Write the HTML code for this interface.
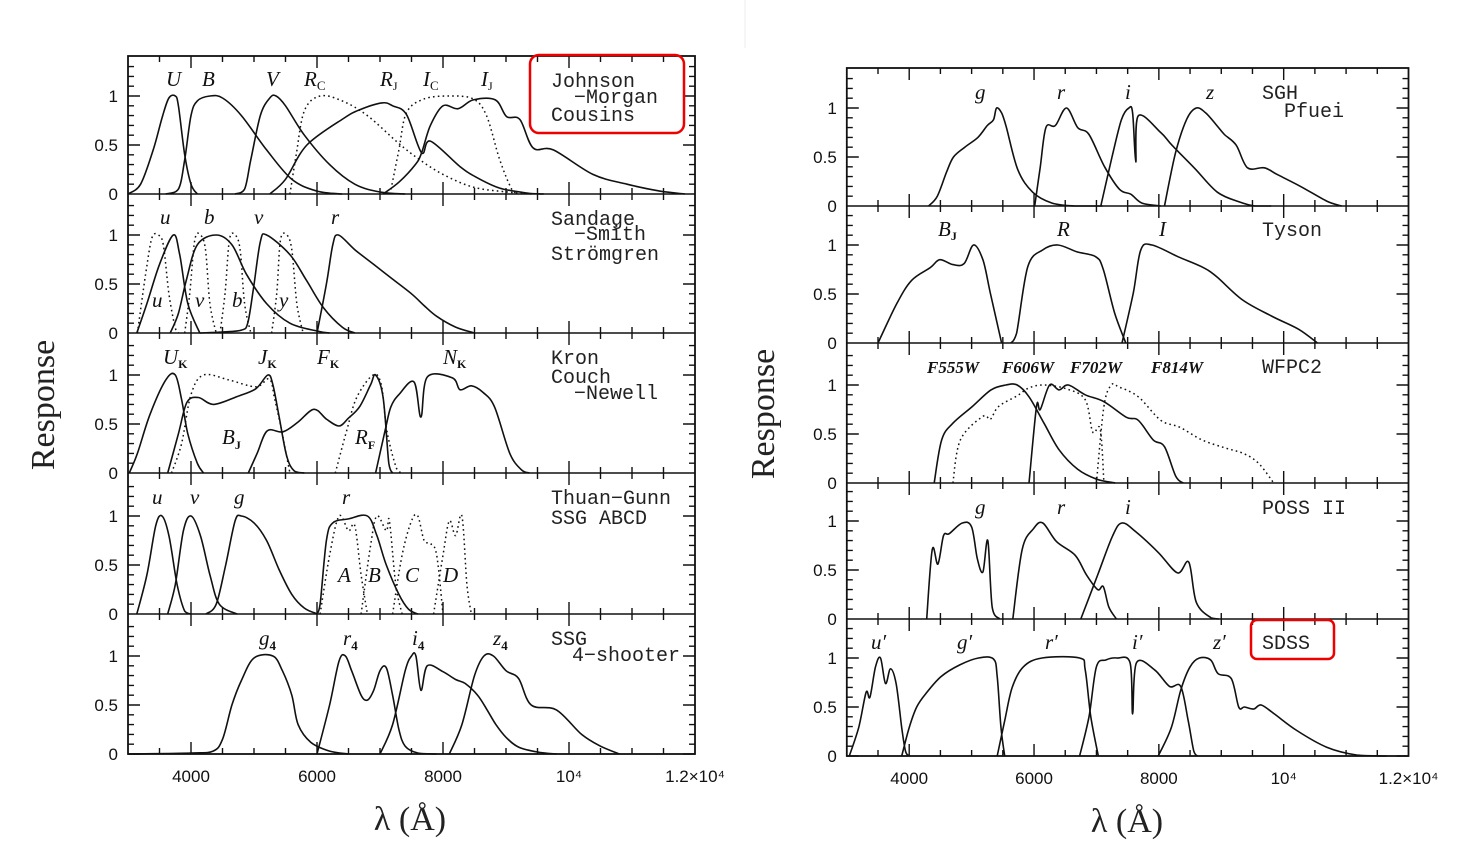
<!DOCTYPE html>
<html><head><meta charset="utf-8"><style>
html,body{margin:0;padding:0;background:#fff;}
svg{display:block;}
.t{font-family:"Liberation Sans",sans-serif;font-size:17px;fill:#111;}
.n{font-family:"Liberation Mono",monospace;font-size:20px;fill:#222;}
.l{font-family:"Liberation Serif",serif;font-style:italic;font-size:21px;fill:#111;}
.w{font-family:"Liberation Serif",serif;font-style:italic;font-weight:bold;font-size:17px;fill:#111;}
.ax{font-family:"Liberation Serif",serif;font-size:34px;fill:#222;}
</style></head><body>
<svg id="s" width="1471" height="864" viewBox="0 0 1471 864" xmlns="http://www.w3.org/2000/svg">
<line x1="745" y1="0" x2="745" y2="48" stroke="#eee" stroke-width="1"/>
<g id="g"></g>
<text class="ax" transform="translate(54,405) rotate(-90)" text-anchor="middle">Response</text>
<text class="ax" transform="translate(774,414) rotate(-90)" text-anchor="middle">Response</text>
<text class="ax" x="410" y="830" text-anchor="middle">λ (Å)</text>
<text class="ax" x="1127" y="832" text-anchor="middle">λ (Å)</text>
<g class="l">
<text x="166" y="86">U</text><text x="202" y="86">B</text><text x="266" y="86">V</text>
<text x="304" y="86">R<tspan font-size="13" dy="4" font-style="normal">C</tspan></text>
<text x="380" y="86">R<tspan font-size="12" dy="4" font-style="normal">J</tspan></text>
<text x="423" y="86">I<tspan font-size="13" dy="4" font-style="normal">C</tspan></text>
<text x="481" y="86">I<tspan font-size="12" dy="4" font-style="normal">J</tspan></text>
<text x="160" y="224">u</text><text x="204" y="224">b</text><text x="254" y="224">v</text><text x="331" y="224">r</text>
<text x="152" y="307">u</text><text x="195" y="307">v</text><text x="232" y="307">b</text><text x="279" y="307">y</text>
<text x="163" y="364">U<tspan font-size="12" dy="4" font-style="normal" font-weight="bold">K</tspan></text>
<text x="258" y="364">J<tspan font-size="12" dy="4" font-style="normal" font-weight="bold">K</tspan></text>
<text x="317" y="364">F<tspan font-size="12" dy="4" font-style="normal" font-weight="bold">K</tspan></text>
<text x="443" y="364">N<tspan font-size="12" dy="4" font-style="normal" font-weight="bold">K</tspan></text>
<text x="222" y="444">B<tspan font-size="12" dy="5" font-style="normal" font-weight="bold">J</tspan></text>
<text x="355" y="444">R<tspan font-size="12" dy="5" font-style="normal" font-weight="bold">F</tspan></text>
<text x="152" y="504">u</text><text x="190" y="504">v</text><text x="234" y="504">g</text><text x="342" y="504">r</text>
<text x="338" y="582">A</text><text x="368" y="582">B</text><text x="405" y="582">C</text><text x="443" y="582">D</text>
<text x="259" y="645">g<tspan font-size="13" dy="5" font-style="normal" font-weight="bold">4</tspan></text>
<text x="343" y="645">r<tspan font-size="13" dy="5" font-style="normal" font-weight="bold">4</tspan></text>
<text x="412" y="645">i<tspan font-size="13" dy="5" font-style="normal" font-weight="bold">4</tspan></text>
<text x="493" y="645">z<tspan font-size="13" dy="5" font-style="normal" font-weight="bold">4</tspan></text>
<text x="975" y="99">g</text><text x="1057" y="99">r</text><text x="1125" y="99">i</text><text x="1206" y="99">z</text>
<text x="938" y="236">B<tspan font-size="12" dy="4" font-style="normal" font-weight="bold">J</tspan></text>
<text x="1057" y="236">R</text><text x="1159" y="236">I</text>
<text x="975" y="514">g</text><text x="1057" y="514">r</text><text x="1125" y="514">i</text>
<text x="871" y="649">u′</text><text x="957" y="649">g′</text><text x="1045" y="649">r′</text><text x="1132" y="649">i′</text><text x="1213" y="649">z′</text>
</g>
<g class="w">
<text x="927" y="373">F555W</text><text x="1002" y="373">F606W</text><text x="1070" y="373">F702W</text><text x="1151" y="373">F814W</text>
</g>
<g class="n">
<text x="551" y="87">Johnson</text><text x="574" y="103">−Morgan</text><text x="551" y="121">Cousins</text>
<text x="551" y="225">Sandage</text><text x="574" y="240">−Smith</text><text x="551" y="260">Strömgren</text>
<text x="551" y="364">Kron</text><text x="551" y="383">Couch</text><text x="574" y="399">−Newell</text>
<text x="551" y="504">Thuan−Gunn</text><text x="551" y="524">SSG ABCD</text>
<text x="551" y="645">SSG</text><text x="572" y="661">4−shooter</text>
<text x="1262" y="99">SGH</text><text x="1284" y="117">Pfuei</text>
<text x="1262" y="236">Tyson</text><text x="1262" y="373">WFPC2</text><text x="1262" y="514">POSS II</text><text x="1262" y="649">SDSS</text>
</g>
<rect x="530" y="55" width="154" height="78" rx="9" fill="none" stroke="#e00" stroke-width="2.5"/>
<rect x="1251" y="620" width="83" height="39" rx="6" fill="none" stroke="#e00" stroke-width="2.5"/>
</svg>
<script>
var NS="http://www.w3.org/2000/svg",G=document.getElementById("g");
function el(t,a){var e=document.createElementNS(NS,t);for(var k in a)e.setAttribute(k,a[k]);G.appendChild(e);return e;}
function chart(X0,X1,zeros,top,U){
 var sx=(X1-X0)/9000;function X(l){return X0+(l-3000)*sx;}
 var bot=zeros[zeros.length-1];
 el("rect",{x:X0,y:top,width:X1-X0,height:bot-top,fill:"none",stroke:"#111","stroke-width":1.8});
 var d="";
 zeros.forEach(function(z,i){
  if(i<zeros.length-1)d+="M"+X0+" "+z+"H"+X1;
  var pt=(i==0?top:zeros[i-1]);
  for(var l=3500;l<12000;l+=500){var x=X(l),L=(l%2000==0)?12:6;d+="M"+x+" "+z+"v-"+L+"M"+x+" "+pt+"v"+L;}
  for(var k=0;k<=13;k++){var y=z-k*U*0.1,L=(k%5==0)?12:6;if(y<pt+1)continue;d+="M"+X0+" "+y+"h"+L+"M"+X1+" "+y+"h-"+L;}
  [["0",0],["0.5",.5],["1",1]].forEach(function(a){var t=el("text",{x:X0-10,y:z-a[1]*U+6,"text-anchor":"end","class":"t"});t.textContent=a[0];});
 });
 el("path",{d:d,fill:"none",stroke:"#111","stroke-width":1.4});
 [[4000,"4000"],[6000,"6000"],[8000,"8000"],[10000,"10⁴"],[12000,"1.2×10⁴"]].forEach(function(a){var t=el("text",{x:X(a[0]),y:bot+28,"text-anchor":"middle","class":"t"});t.textContent=a[1];});
 return function(p,pts,dot){var z=zeros[p],P=[];
  for(var i=0;i<pts.length;i+=2)P.push([X(pts[i]),z-pts[i+1]*U]);
  var s="M"+P[0][0].toFixed(1)+" "+P[0][1].toFixed(1);
  for(var i=0;i<P.length-1;i++){var p0=P[i-1]||P[i],p1=P[i],p2=P[i+1],p3=P[i+2]||p2;
   var c1=[p1[0]+(p2[0]-p0[0])/6,p1[1]+(p2[1]-p0[1])/6],c2=[p2[0]-(p3[0]-p1[0])/6,p2[1]-(p3[1]-p1[1])/6];
   c1[1]=Math.min(c1[1],z);c2[1]=Math.min(c2[1],z);
   s+="C"+c1[0].toFixed(1)+" "+c1[1].toFixed(1)+" "+c2[0].toFixed(1)+" "+c2[1].toFixed(1)+" "+p2[0].toFixed(1)+" "+p2[1].toFixed(1);}
  var a={d:s,fill:"none",stroke:"#111","stroke-width":1.6,"stroke-linejoin":"round"};if(dot){a["stroke-dasharray"]="1.6 3.2";a["stroke-width"]=1.5;}el("path",a);};
}
var c=chart(128,695,[194,333,473,614,754],56,98);
// Johnson
c(0,[3000,0,3200,.1,3400,.45,3550,.8,3650,.98,3750,1,3800,.9,3900,.4,4000,.1,4100,0]);
c(0,[3600,0,3800,.05,3900,.35,4000,.8,4100,.95,4300,1,4500,.98,4800,.8,5200,.45,5600,.15,6000,.03,6400,0]);
c(0,[4700,0,4850,.05,4950,.35,5100,.8,5250,.98,5350,1,5500,.9,5800,.6,6200,.3,6600,.1,7000,.02,7400,0]);
c(0,[5250,0,5500,.15,5840,.5,6420,.77,6680,.86,7030,.93,7200,.9,7420,.81,7660,.42,7800,.54,8270,.28,8530,.17,8900,.06,9330,.01,9600,0]);
c(0,[7050,0,7300,.12,7560,.3,7660,.42,7800,.7,8000,.9,8240,.87,8480,.96,8830,.96,9010,.79,9220,.76,9430,.47,9750,.45,10380,.2,10920,.1,11440,.03,11840,0]);
c(0,[5570,0,5670,.4,5800,.85,6050,1,6400,.95,6800,.8,7290,.52,7630,.35,8000,.2,8480,.07,9020,.02,9400,0],1);
c(0,[7160,0,7300,.45,7420,.83,7700,.97,8110,1,8480,.97,8690,.8,8900,.35,9090,.05,9200,0],1);
// Strömgren
c(1,[3140,0,3300,.3,3500,.7,3720,1,3820,.8,3950,.3,4140,0]);
c(1,[3670,0,3800,.2,3930,.55,4100,.9,4400,1,4650,.9,4880,.6,5200,.3,5570,.1,6000,.02,6200,0]);
c(1,[4140,0,4500,.01,4800,.03,4900,.1,4990,.45,5100,.93,5200,1,5570,.8,5830,.54,6100,.26,6400,.06,6600,0]);
c(1,[6000,0,6150,.5,6250,.9,6340,1,6600,.85,6900,.7,7200,.55,7500,.4,7700,.28,7900,.17,8200,.06,8500,0]);
c(1,[3150,0,3280,.6,3380,.97,3480,1,3560,.9,3650,.4,3750,.05,3800,0],1);
c(1,[3900,0,3980,.4,4060,.95,4150,1,4230,.85,4300,.3,4400,0],1);
c(1,[4460,0,4540,.4,4610,.95,4700,1,4780,.85,4850,.3,4950,0],1);
c(1,[5280,0,5360,.4,5420,.95,5520,1,5600,.85,5680,.3,5780,0],1);
// Kron
c(2,[3020,0,3150,.2,3350,.6,3600,.95,3750,1,3850,.75,3950,.4,4100,.1,4200,0]);
c(2,[3630,0,3800,.4,3935,.72,4117,.77,4360,.7,4730,.78,5030,.86,5220,1,5300,.9,5400,.57,5520,.17,5640,.02,5800,0]);
c(2,[3690,0,3850,.3,4000,.8,4200,1,4600,.95,5030,.88,5245,.96,5330,.75,5440,.43,5570,0],1);
c(2,[4910,0,5050,.2,5210,.43,5460,.42,5700,.52,5950,.65,6150,.55,6350,.48,6500,.56,6680,.68,6850,.9,6930,1,7050,.77,7140,.1,7200,0]);
c(2,[6290,0,6470,.43,6630,.77,6890,1,7020,.9,7110,.43,7260,.05,7350,0],1);
c(2,[6930,0,7080,.43,7170,.67,7300,.8,7540,.93,7650,.57,7750,.98,8150,.97,8270,.85,8450,.89,8640,.82,8820,.67,9060,.2,9250,.03,9370,0]);
// Thuan-Gunn
c(3,[3140,0,3300,.4,3440,.9,3540,1,3650,.8,3780,.3,3900,.03,4000,0]);
c(3,[3630,0,3750,.3,3880,.85,4000,1,4150,.8,4300,.4,4450,.1,4730,0]);
c(3,[4240,0,4400,.1,4550,.5,4700,.95,4800,1,5000,.93,5200,.75,5400,.45,5600,.2,5800,.06,6010,0]);
c(3,[6000,0,6050,.1,6150,.75,6250,.93,6500,.97,6800,1,6950,.8,7100,.5,7300,.2,7450,.05,7600,0]);
c(3,[6050,0,6200,.6,6350,1,6500,.85,6600,.9,6700,.4,6800,0],1);
c(3,[6700,0,6850,.7,6950,1,7100,.85,7150,.95,7250,.3,7350,0],1);
c(3,[7200,0,7350,.6,7500,.95,7600,1,7700,.75,7800,.72,7900,.6,8000,0],1);
c(3,[7850,0,8000,.6,8100,.95,8200,.8,8300,1,8380,.3,8450,0],1);
// 4-shooter
c(4,[3000,0,4000,.01,4350,.03,4500,.15,4650,.5,4800,.75,5000,.98,5300,1,5450,.85,5600,.6,5700,.3,5900,.12,6200,.03,6500,0]);
c(4,[6000,0,6200,.5,6350,.95,6450,1,6550,.85,6700,.6,6800,.55,6900,.65,7000,.85,7100,.88,7200,.6,7300,.25,7400,.08,7600,.01,7900,0]);
c(4,[7000,0,7200,.3,7400,.85,7500,1,7570,1,7650,.65,7750,.9,8000,.84,8200,.76,8350,.72,8550,.6,8700,.45,8840,.3,9000,.17,9200,.07,9500,.02,9800,0]);
c(4,[8100,0,8300,.3,8500,.8,8650,1,8800,1,9000,.85,9200,.77,9400,.5,9800,.45,10200,.2,10500,.08,10800,0]);
var r=chart(846.8,1408.5,[206,343,483,619,756],68,98);
r(0,[4310,0,4450,.1,4600,.35,4710,.5,4890,.6,5100,.7,5250,.82,5350,.88,5400,1,5480,.95,5550,.82,5740,.37,5980,.14,6290,.03,6650,0,7100,0]);
r(0,[6010,0,6100,.4,6190,.8,6340,.82,6520,1,6700,.8,6880,.73,7130,.4,7370,.17,7550,.12,7730,.03,8030,0]);
r(0,[7070,0,7250,.5,7400,.88,7520,1,7580,.95,7630,.45,7670,.92,8030,.75,8210,.62,8580,.38,8940,.14,9300,.04,9540,0,9800,0]);
r(0,[8090,0,8270,.55,8450,.89,8600,1,8750,.95,8930,.82,9050,.73,9240,.62,9420,.39,9690,.39,9900,.32,10270,.2,10690,.05,10930,0]);
r(1,[3500,0,3800,.4,4040,.64,4340,.77,4490,.85,4700,.8,4880,.81,5030,1,5180,.85,5300,.51,5480,0]);
r(1,[5630,0,5720,.1,5900,.78,6140,.95,6380,1,6690,.93,6990,.88,7110,.75,7290,.31,7470,0]);
r(1,[7410,0,7590,.51,7710,.95,7890,1,8310,.88,8680,.78,8920,.68,9340,.44,9820,.27,10240,.14,10540,0]);
r(2,[4400,0,4520,.44,4700,.61,5010,.78,5310,.95,5550,1,5730,1,5920,.88,6160,.61,6400,.34,6700,.14,7000,.04,7300,0]);
r(2,[4700,0,4820,.44,5180,.68,5300,.65,5430,.78,5730,.89,5920,.97,6160,1,6520,.96,6820,.85,6940,.52,7060,.55,7120,0],1);
r(2,[5920,0,6040,.78,6100,.75,6250,1,6400,.95,6550,1,6820,.9,7120,.83,7480,.67,7670,.64,7910,.44,8090,.37,8270,.07,8390,0]);
r(2,[7000,0,7120,.78,7240,1,7360,.98,7670,.88,8030,.64,8330,.57,8690,.44,9050,.36,9360,.3,9600,.2,9840,0],1);
r(3,[4280,0,4370,.71,4460,.56,4550,.85,4640,.87,4850,.98,5000,.94,5090,.62,5180,.48,5260,.8,5330,.12,5450,0]);
r(3,[5660,0,5810,.71,5990,.92,6140,.98,6360,.79,6660,.65,6840,.45,7020,.3,7110,.33,7200,.12,7320,0]);
r(3,[6750,0,7020,.45,7260,.85,7410,.98,7630,.89,7990,.68,8300,.47,8480,.58,8600,.17,8840,.01,8960,0]);
r(4,[3040,0,3190,.29,3310,.65,3370,.6,3460,.91,3540,1,3620,.74,3700,.89,3790,.74,3880,.29,3940,.05,4000,0]);
r(4,[3880,0,4000,.29,4120,.5,4270,.64,4510,.81,4810,.93,5110,1,5350,.99,5410,.81,5470,.29,5530,0]);
r(4,[5410,0,5530,.36,5650,.7,5830,.91,6130,1,6730,1,6820,.88,6910,.4,7030,0]);
r(4,[6730,0,6880,.4,7000,.91,7150,.98,7330,1,7540,.95,7580,.43,7640,.95,7930,.88,8170,.71,8350,.71,8470,.36,8560,.05,8620,0]);
r(4,[7990,0,8200,.29,8350,.67,8500,.91,8650,1,8830,.98,8950,.84,9160,.79,9280,.5,9370,.5,9520,.48,9640,.52,9850,.43,10210,.26,10690,.09,11170,.01,11650,0]);
</script>
</body></html>
